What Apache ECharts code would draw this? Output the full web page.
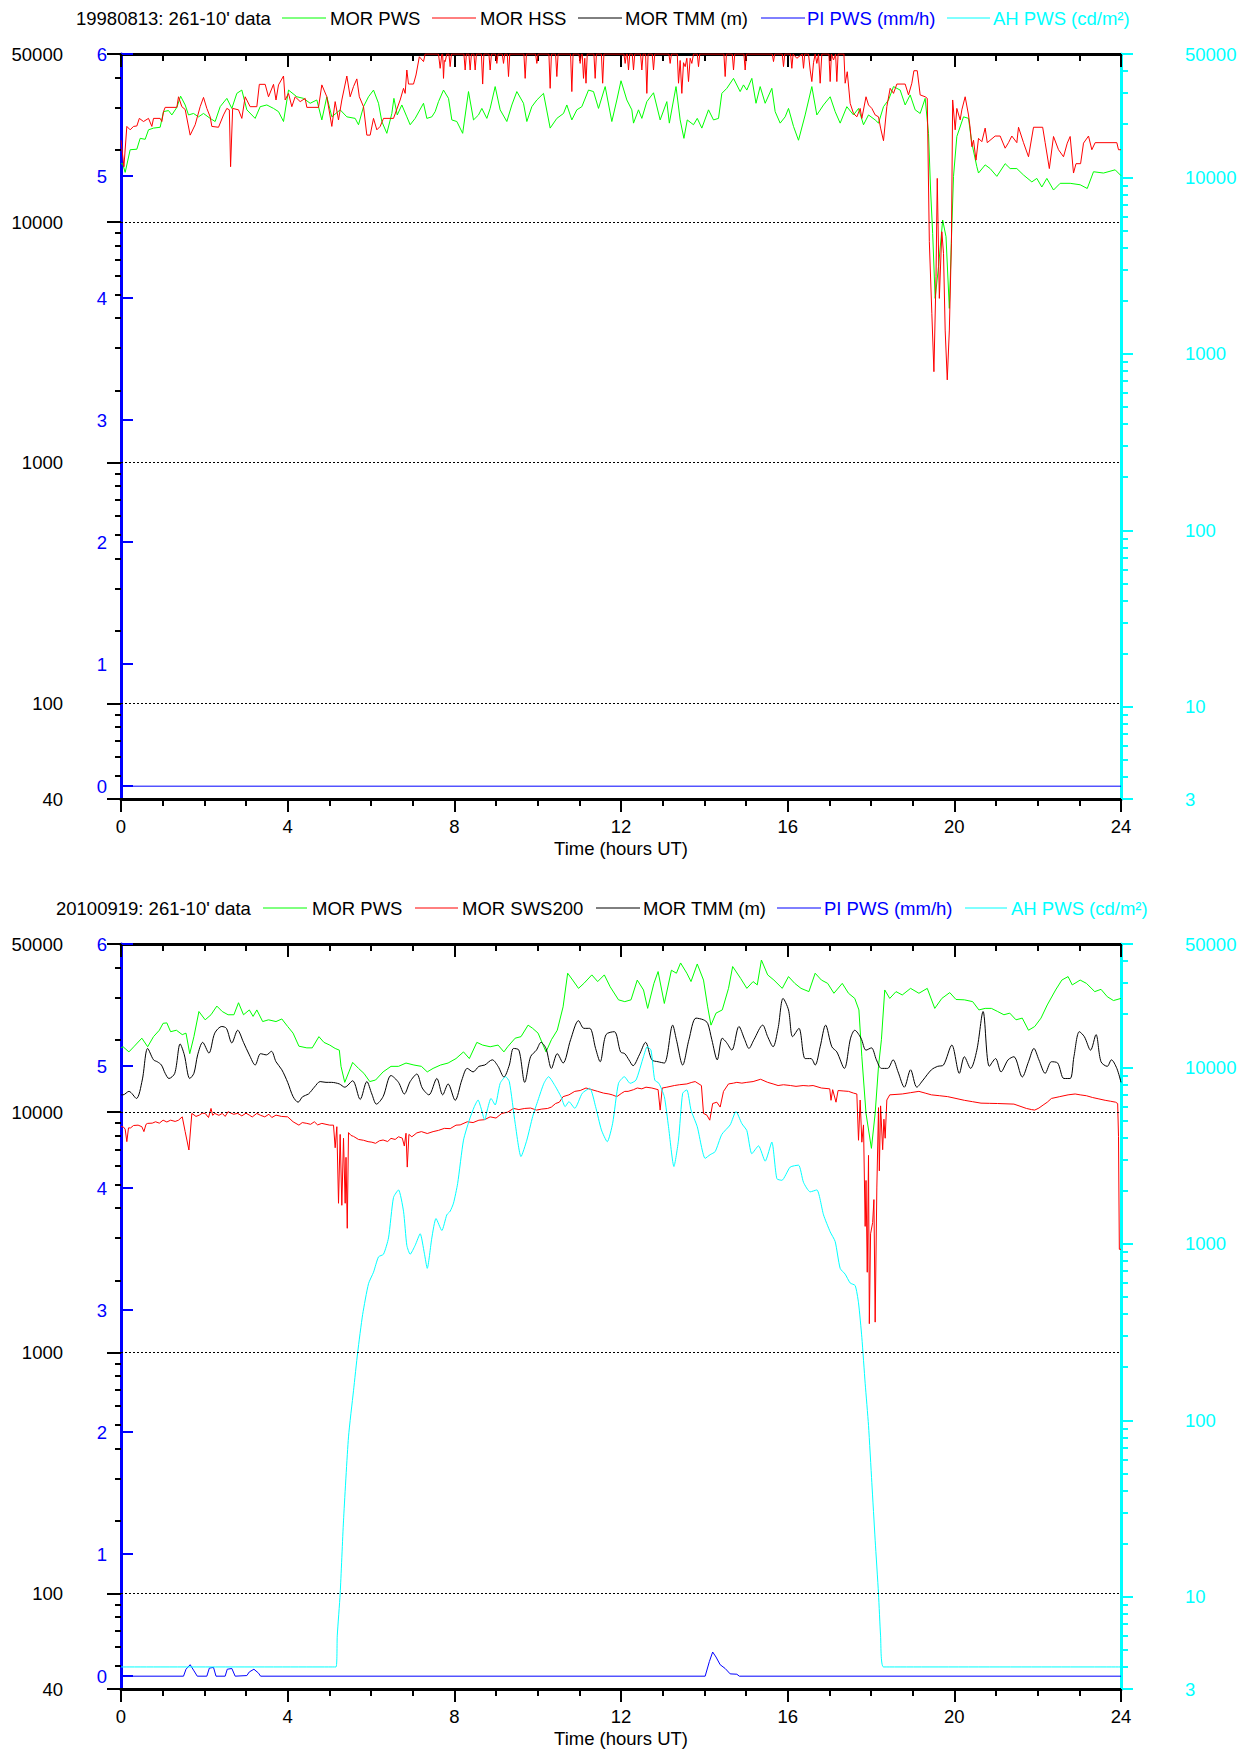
<!DOCTYPE html>
<html>
<head>
<meta charset="utf-8">
<title>MOR / PI / AH daily records</title>
<script src="https://cdn.jsdelivr.net/npm/echarts@6/dist/echarts.min.js"></script>
<style>
  html, body { margin: 0; padding: 0; background: #ffffff; }
  #chart { width: 1249px; height: 1751px; }
</style>
</head>
<body>
<div id="chart"></div>
<script>
// ---------------------------------------------------------------------------
// Tick values and labels
// ---------------------------------------------------------------------------
const hourLabels = [0, 4, 8, 12, 16, 20, 24];
const morMajorTicks = [40, 100, 1000, 10000, 50000];
const morMinorTicks = [50, 60, 70, 80, 90, 200, 300, 400, 500, 600, 700, 800, 900,
  2000, 3000, 4000, 5000, 6000, 7000, 8000, 9000, 20000, 30000, 40000];
const ahMajorTicks = [3, 10, 100, 1000, 10000, 50000];
const ahMinorTicks = [4, 5, 6, 7, 8, 9, 20, 30, 40, 50, 60, 70, 80, 90,
  200, 300, 400, 500, 600, 700, 800, 900, 2000, 3000, 4000, 5000, 6000, 7000, 8000, 9000,
  20000, 30000, 40000];
const piTicks = [0, 1, 2, 3, 4, 5, 6];
const morGridLines = [100, 1000, 10000];

// ---------------------------------------------------------------------------
// 1998-08-13 : [hour UT, value]
// ---------------------------------------------------------------------------
const topTitle = "19980813: 261-10' data";
const topNames = ['MOR PWS', 'MOR HSS', 'MOR TMM (m)', 'PI PWS (mm/h)', 'AH PWS (cd/m\u00B2)'];

const topPws = [
  [0.00,17500],[0.04,17500],[0.10,16100],[0.22,20000],[0.38,20100],[0.46,22300],[0.58,22100],[0.66,24200],
  [0.78,24600],[0.94,24800],[1.02,28800],[1.14,29100],[1.22,27900],[1.34,30000],[1.43,33400],[1.54,30700],
  [1.62,27900],[1.74,28300],[1.86,27400],[1.98,28300],[2.14,27000],[2.26,26200],[2.38,30200],[2.54,32700],
  [2.66,29700],[2.78,34300],[2.90,35400],[3.02,29300],[3.22,27000],[3.34,30200],[3.50,30700],[3.66,29700],
  [3.78,28800],[3.90,26200],[4.02,35400],[4.22,33200],[4.38,32700],[4.54,31200],[4.70,32200],[4.82,26600],
  [4.94,33200],[5.06,27400],[5.26,29300],[5.42,27400],[5.62,27000],[5.70,25400],[5.82,30200],[5.94,33200],
  [6.06,35400],[6.18,31200],[6.26,26200],[6.38,23400],[6.50,28300],[6.55,32700],[6.63,27900],[6.74,30700],
  [6.86,27400],[6.94,25400],[7.06,27000],[7.26,31200],[7.34,27000],[7.46,27400],[7.54,28800],[7.62,31700],
  [7.74,35400],[7.86,32700],[7.94,26600],[8.06,26200],[8.20,23400],[8.34,34900],[8.46,26600],[8.58,27900],
  [8.66,29700],[8.78,27000],[8.86,29700],[8.98,36600],[9.10,29300],[9.26,26200],[9.38,30700],[9.50,34900],
  [9.66,31200],[9.74,26200],[9.86,30200],[9.98,32200],[10.14,34300],[10.30,24600],[10.46,27000],[10.62,28300],
  [10.70,30700],[10.82,26600],[10.94,29300],[11.06,30200],[11.22,35400],[11.34,34900],[11.46,29700],[11.62,36600],
  [11.78,26200],[11.90,32200],[12.00,38700],[12.14,32200],[12.26,29300],[12.30,25800],[12.42,29300],[12.50,27000],
  [12.62,31700],[12.78,34500],[12.94,26600],[13.10,31700],[13.16,25800],[13.32,36600],[13.42,26600],[13.51,22300],
  [13.59,26600],[13.74,25400],[13.83,27000],[13.94,24600],[14.10,29300],[14.22,26600],[14.34,27000],[14.42,34300],
  [14.54,36000],[14.70,39600],[14.86,34900],[14.94,37200],[15.02,35400],[15.14,39600],[15.24,31200],[15.34,36600],
  [15.46,31200],[15.62,36000],[15.70,28800],[15.82,25800],[15.94,27400],[16.02,29700],[16.14,25000],[16.26,21900],
  [16.42,27900],[16.58,36600],[16.70,27900],[16.86,30700],[17.02,33200],[17.14,28800],[17.26,25800],[17.42,30200],
  [17.58,27900],[17.70,29700],[17.82,25400],[17.94,27900],[18.10,26600],[18.18,25800],[18.30,30200],[18.42,32200],
  [18.54,36600],[18.70,35400],[18.82,30700],[18.94,33800],[19.06,29300],[19.18,28300],[19.30,32700],[19.38,23400],
  [19.43,13600],[19.48,8980],[19.54,4820],[19.62,6530],[19.72,10200],[19.80,8700],[19.88,4380],[19.93,8430],
  [19.98,15500],[20.06,22700],[20.22,27400],[20.34,27000],[20.42,21300],[20.54,17000],[20.58,16000],[20.74,17300],
  [20.86,16700],[21.02,15500],[21.22,17500],[21.34,16700],[21.50,16700],[21.66,15700],[21.86,14700],[21.98,15200],
  [22.10,14000],[22.22,15200],[22.38,13600],[22.54,14500],[22.78,14500],[23.02,14300],[23.19,13800],[23.34,16200],
  [23.58,16000],[23.86,16500],[24.00,15600]
];

const topHss = [
  [0.00,21900],[0.07,17000],[0.14,25000],[0.22,24200],[0.30,25000],[0.38,25100],[0.44,27000],[0.54,26200],
  [0.66,27000],[0.74,25000],[0.78,27000],[0.94,27000],[0.98,26200],[1.02,28800],[1.06,30000],[1.34,30000],
  [1.38,33200],[1.46,30200],[1.54,29400],[1.66,23000],[1.78,25400],[1.90,30200],[1.98,33000],[2.06,29700],
  [2.14,27400],[2.18,25000],[2.34,24800],[2.46,27900],[2.54,29700],[2.60,29300],[2.63,17000],[2.68,29700],
  [2.82,29300],[2.90,27000],[2.98,33200],[3.10,30200],[3.26,30200],[3.32,37400],[3.46,37400],[3.54,33200],
  [3.66,37400],[3.72,32200],[3.78,37200],[3.90,40500],[3.94,32200],[4.02,34300],[4.10,30200],[4.18,33200],
  [4.30,31700],[4.42,32700],[4.46,30000],[4.74,30000],[4.82,37200],[4.94,33200],[5.06,25000],[5.14,31700],
  [5.22,26600],[5.30,32200],[5.42,40500],[5.50,33200],[5.58,36600],[5.66,39400],[5.72,33200],[5.82,30200],
  [5.90,23000],[5.98,23000],[6.06,27000],[6.14,24200],[6.22,25000],[6.30,27000],[6.54,27000],[6.70,32200],
  [6.78,36000],[6.82,34300],[6.86,42900],[6.90,37500],[7.02,37500],[7.08,40900],[7.16,48700],[7.26,46500],
  [7.30,50000],[7.62,50000],[7.66,43600],[7.70,50000],[7.72,50000],[7.74,39600],[7.76,47000],[7.78,46500],
  [7.82,50000],[7.87,50000],[7.90,44300],[7.93,50000],[8.23,50000],[8.26,42900],[8.29,50000],[8.35,50000],
  [8.38,42900],[8.41,50000],[8.47,50000],[8.50,42900],[8.53,50000],[8.65,50000],[8.68,37500],[8.71,50000],
  [8.83,50000],[8.86,42900],[8.89,50000],[8.99,50000],[9.02,45700],[9.05,50000],[9.15,50000],[9.18,45700],
  [9.21,50000],[9.27,50000],[9.30,40300],[9.33,50000],[9.67,50000],[9.70,39600],[9.73,50000],[9.95,50000],
  [9.98,45700],[10.01,50000],[10.27,50000],[10.30,36000],[10.33,50000],[10.43,50000],[10.46,40300],[10.49,50000],
  [10.79,50000],[10.82,34900],[10.85,50000],[10.99,50000],[11.02,45700],[11.05,50000],[11.07,50000],[11.10,39600],
  [11.13,48000],[11.16,37800],[11.19,50000],[11.35,50000],[11.38,39600],[11.41,50000],[11.53,50000],[11.56,37800],
  [11.59,50000],[12.07,50000],[12.10,45700],[12.13,50000],[12.15,50000],[12.18,42900],[12.21,50000],[12.27,50000],
  [12.30,42900],[12.33,50000],[12.47,50000],[12.50,42900],[12.53,50000],[12.59,50000],[12.62,34300],[12.65,50000],
  [12.75,50000],[12.78,42900],[12.81,50000],[13.15,50000],[13.18,45700],[13.21,50000],[13.35,50000],[13.38,37800],
  [13.42,47000],[13.46,34300],[13.50,46000],[13.54,44300],[13.58,48000],[13.62,38400],[13.66,48000],[13.70,45700],
  [13.74,50000],[13.83,50000],[13.86,44300],[13.89,50000],[14.47,50000],[14.50,40300],[14.53,50000],[14.67,50000],
  [14.70,42900],[14.73,50000],[14.95,50000],[14.98,42900],[15.01,50000],[15.63,50000],[15.66,46500],[15.69,50000],
  [15.87,50000],[15.90,44300],[15.93,50000],[16.07,50000],[16.10,43600],[16.13,50000],[16.22,48000],[16.35,50000],
  [16.38,43600],[16.41,50000],[16.50,50000],[16.54,42900],[16.58,38400],[16.62,46000],[16.66,50000],[16.70,45700],
  [16.74,50000],[16.78,37800],[16.82,50000],[16.99,50000],[17.02,38400],[17.05,50000],[17.10,47200],[17.15,50000],
  [17.18,38400],[17.21,50000],[17.35,50000],[17.38,37800],[17.43,42200],[17.50,31200],[17.58,28300],[17.66,27400],
  [17.74,29700],[17.78,27000],[17.88,33200],[17.94,30700],[18.02,29700],[18.10,27900],[18.18,27400],[18.23,24600],
  [18.30,21800],[18.38,30200],[18.46,36000],[18.54,34300],[18.62,37500],[18.82,37500],[18.90,33800],[18.98,37800],
  [19.03,42600],[19.11,42600],[19.18,33800],[19.30,33200],[19.35,32700],[19.40,8300],[19.46,4180],[19.51,2390],
  [19.56,5930],[19.59,15200],[19.64,4820],[19.70,9120],[19.74,7420],[19.78,3560],[19.83,2210],[19.88,3560],
  [19.93,8170],[19.96,32200],[20.02,24200],[20.06,29700],[20.14,26600],[20.18,29300],[20.26,33200],[20.34,27900],
  [20.38,24600],[20.42,20600],[20.46,21900],[20.52,18100],[20.58,22300],[20.66,21600],[20.74,24600],[20.79,21400],
  [20.98,22800],[21.10,22800],[21.22,20300],[21.30,21400],[21.38,22800],[21.50,21400],[21.54,24800],[21.66,21400],
  [21.78,18700],[21.90,24800],[22.12,24800],[22.18,21400],[22.28,16700],[22.38,22700],[22.50,20000],[22.62,18700],
  [22.71,21300],[22.78,22700],[22.86,16000],[22.92,17500],[23.03,17500],[23.10,21300],[23.22,22800],[23.30,20000],
  [23.38,21400],[23.90,21400],[23.94,20000],[24.00,20000]
];

const topTmm = [];
const topPi = [[0.00,0],[24.00,0]];
const topAh = [];

// ---------------------------------------------------------------------------
// 2010-09-19 : [hour UT, value]
// ---------------------------------------------------------------------------
const bottomTitle = "20100919: 261-10' data";
const bottomNames = ['MOR PWS', 'MOR SWS200', 'MOR TMM (m)', 'PI PWS (mm/h)', 'AH PWS (cd/m\u00B2)'];

const bottomPws = [
  [0.00,18500],[0.05,18700],[0.19,17800],[0.32,18800],[0.50,20300],[0.64,18700],[0.78,20600],[0.92,21900],
  [1.01,23400],[1.10,23500],[1.19,21600],[1.33,21900],[1.47,21000],[1.56,21300],[1.65,17500],[1.75,20600],
  [1.87,26200],[2.02,24200],[2.16,25400],[2.30,27600],[2.43,26200],[2.57,25400],[2.71,25400],[2.82,28500],
  [2.94,25400],[3.08,26600],[3.17,25000],[3.26,26600],[3.40,23800],[3.54,24200],[3.72,23800],[3.86,24400],
  [4.00,22700],[4.13,21300],[4.27,18800],[4.46,18500],[4.59,18500],[4.75,20600],[4.87,19500],[5.01,19000],
  [5.14,18400],[5.24,18100],[5.28,15500],[5.37,13300],[5.47,14700],[5.56,16100],[5.70,15200],[5.83,14500],
  [5.97,13400],[6.11,13600],[6.29,14700],[6.48,15500],[6.66,15500],[6.84,16000],[7.03,15700],[7.21,15500],
  [7.35,14700],[7.49,15200],[7.67,15700],[7.85,16000],[8.04,16700],[8.22,17800],[8.36,16700],[8.54,19500],
  [8.68,19000],[8.86,18700],[9.05,19000],[9.19,17800],[9.28,18700],[9.46,20300],[9.60,20600],[9.77,23000],
  [9.88,22300],[10.01,21300],[10.20,17800],[10.33,20000],[10.47,21900],[10.61,27400],[10.72,37800],[10.84,35400],
  [10.98,32700],[11.11,34300],[11.30,37200],[11.44,34900],[11.60,37200],[11.74,33200],[11.94,29300],[12.09,28800],
  [12.24,29300],[12.39,35400],[12.54,32200],[12.64,27000],[12.79,34300],[12.89,38400],[13.04,28300],[13.21,38900],
  [13.33,37800],[13.43,41700],[13.58,37800],[13.68,34900],[13.83,41300],[13.98,35400],[14.08,27400],[14.16,23000],
  [14.28,25800],[14.43,26600],[14.58,32700],[14.68,40300],[14.87,36000],[15.02,32700],[15.17,34900],[15.27,33800],
  [15.37,42900],[15.52,37200],[15.67,35400],[15.87,32700],[16.02,36600],[16.17,34300],[16.32,32700],[16.51,31700],
  [16.66,37800],[16.81,35400],[16.96,34300],[17.11,31200],[17.31,34300],[17.46,31200],[17.61,29700],[17.71,26600],
  [17.78,17000],[17.88,9890],[18.01,7070],[18.10,9890],[18.18,15500],[18.25,20000],[18.33,32200],[18.45,29700],
  [18.60,31700],[18.75,30700],[18.95,32700],[19.15,31200],[19.35,32700],[19.53,27000],[19.70,29700],[19.89,31400],
  [20.04,29400],[20.24,29300],[20.44,28800],[20.59,26600],[20.74,27000],[20.89,27000],[21.04,26200],[21.19,25400],
  [21.33,25800],[21.48,24200],[21.63,24600],[21.78,21900],[21.93,22700],[22.08,24600],[22.23,27900],[22.43,32200],
  [22.58,35400],[22.73,36600],[22.83,33800],[23.02,35400],[23.17,34300],[23.37,31700],[23.52,32400],[23.67,30200],
  [23.82,29100],[24.00,29700]
];

const bottomSws = [
  [0.00,8700],[0.05,8700],[0.10,8500],[0.14,7540],[0.18,8600],[0.23,8600],[0.30,8800],[0.41,8830],
  [0.50,8700],[0.55,8300],[0.60,8900],[0.64,8980],[0.75,9000],[0.83,9120],[0.92,9000],[1.01,9260],
  [1.10,9100],[1.19,9260],[1.30,9150],[1.38,9260],[1.47,9560],[1.54,8300],[1.63,6960],[1.70,9880],
  [1.80,9600],[1.88,9720],[1.95,9900],[2.02,9880],[2.10,9500],[2.16,10360],[2.20,9700],[2.25,9880],
  [2.35,9700],[2.43,9880],[2.50,9600],[2.57,10040],[2.70,9800],[2.80,9880],[2.90,9650],[3.00,9900],
  [3.08,9720],[3.15,9550],[3.26,9880],[3.35,9700],[3.45,9560],[3.55,9800],[3.62,9500],[3.72,9720],
  [3.85,9600],[4.00,9560],[4.13,9120],[4.27,8830],[4.35,9050],[4.46,8980],[4.55,8900],[4.64,9120],
  [4.72,8850],[4.82,8980],[4.92,8900],[5.01,8830],[5.10,8830],[5.14,7110],[5.18,8700],[5.22,4180],
  [5.26,8080],[5.30,4100],[5.34,7790],[5.38,4180],[5.40,6490],[5.43,3290],[5.46,8220],[5.52,8000],
  [5.58,7930],[5.70,7700],[5.82,7640],[5.93,7540],[6.02,7500],[6.11,7420],[6.20,7600],[6.29,7660],
  [6.40,7550],[6.48,7780],[6.58,7700],[6.66,7900],[6.75,7800],[6.80,7230],[6.84,8170],[6.87,5910],
  [6.91,8080],[6.98,7900],[7.10,8200],[7.21,8300],[7.35,8150],[7.49,8300],[7.62,8400],[7.76,8560],
  [7.90,8540],[8.04,8830],[8.14,8850],[8.31,9120],[8.45,9050],[8.59,9260],[8.72,9300],[8.86,9560],
  [9.00,9450],[9.14,9880],[9.28,10000],[9.42,10360],[9.55,10250],[9.69,10360],[9.83,10400],[9.97,10200],
  [10.10,10300],[10.24,10360],[10.33,10500],[10.43,10860],[10.52,11000],[10.61,11600],[10.75,11800],[10.89,12200],
  [11.02,12300],[11.16,12600],[11.30,12400],[11.44,12200],[11.58,12000],[11.71,11900],[11.79,11800],[11.90,11600],
  [12.02,12000],[12.09,12200],[12.17,12200],[12.30,12400],[12.39,12600],[12.50,12500],[12.60,12700],[12.74,12600],
  [12.89,12400],[12.94,10200],[12.99,12600],[13.10,12700],[13.28,12900],[13.40,13000],[13.58,13100],[13.70,13300],
  [13.78,13400],[13.93,12900],[13.98,9880],[14.06,9720],[14.13,9260],[14.20,10860],[14.30,11000],[14.38,10500],
  [14.46,12200],[14.58,13100],[14.70,13200],[14.78,13300],[14.90,13200],[15.02,13300],[15.17,13400],[15.35,13700],
  [15.52,13300],[15.65,13100],[15.77,12900],[15.90,13000],[16.07,12900],[16.20,12800],[16.37,12900],[16.50,12850],
  [16.61,12900],[16.81,12600],[17.01,12500],[17.04,11200],[17.08,12400],[17.16,11000],[17.21,12300],[17.33,12250],
  [17.46,12200],[17.58,12000],[17.66,11900],[17.70,7640],[17.74,11230],[17.78,7500],[17.82,8850],[17.86,3350],
  [17.88,5200],[17.91,2160],[17.94,6610],[17.96,1320],[17.99,3120],[18.04,3480],[18.07,4330],[18.10,1340],
  [18.14,4840],[18.18,10440],[18.20,5700],[18.23,10620],[18.28,6980],[18.31,9350],[18.34,7790],[18.38,11230],
  [18.45,11800],[18.60,11850],[18.75,11900],[18.95,12050],[19.15,12200],[19.30,12000],[19.45,11800],[19.65,11700],
  [19.84,11600],[20.04,11400],[20.24,11200],[20.44,11050],[20.64,10900],[20.84,10880],[21.04,10860],[21.24,10830],
  [21.43,10800],[21.60,10550],[21.73,10360],[21.85,10250],[21.93,10200],[22.03,10400],[22.13,10700],[22.23,11000],
  [22.33,11400],[22.53,11600],[22.73,11800],[22.90,11900],[23.02,11800],[23.17,11700],[23.32,11500],[23.47,11350],
  [23.62,11200],[23.75,11100],[23.87,11000],[23.92,10860],[23.94,7930],[23.96,2690],[24.00,2690]
];

const bottomTmm = [
  [0.00,11800],[0.05,11800],[0.19,12200],[0.37,11400],[0.51,13600],[0.64,18400],[0.78,16500],[0.87,16200],
  [0.97,15700],[1.06,14500],[1.15,13800],[1.29,14500],[1.42,19200],[1.52,17300],[1.65,13800],[1.75,14500],
  [1.84,17300],[1.96,19500],[2.11,17600],[2.25,21300],[2.42,22700],[2.53,22300],[2.66,19400],[2.80,21900],
  [2.94,19500],[3.08,17300],[3.22,15700],[3.35,17500],[3.49,17300],[3.61,17900],[3.72,16200],[3.86,15000],
  [4.00,13300],[4.13,11600],[4.25,11000],[4.36,11600],[4.50,11900],[4.64,12700],[4.78,13400],[4.92,13300],
  [5.05,13300],[5.24,13100],[5.37,12700],[5.56,13500],[5.74,11300],[5.90,13400],[6.02,11900],[6.13,10800],
  [6.29,11600],[6.48,14200],[6.66,13300],[6.80,11900],[6.94,13400],[7.10,14400],[7.23,12600],[7.39,11800],
  [7.58,13800],[7.72,11800],[7.85,13100],[8.02,11200],[8.18,13600],[8.31,15200],[8.45,14700],[8.59,15500],
  [8.73,15700],[8.91,16500],[9.05,15500],[9.19,14000],[9.32,15700],[9.42,18400],[9.55,18100],[9.69,13300],
  [9.83,17000],[9.97,18100],[10.08,19500],[10.20,18400],[10.33,15200],[10.47,17500],[10.61,16000],[10.79,20000],
  [10.98,24000],[11.11,22300],[11.25,22300],[11.39,18400],[11.50,16200],[11.64,21000],[11.84,21600],[11.99,17800],
  [12.09,17500],[12.19,16500],[12.29,15600],[12.44,17300],[12.59,19500],[12.74,16500],[12.89,16200],[13.04,16000],
  [13.24,23000],[13.33,20000],[13.48,15700],[13.63,20000],[13.80,24600],[13.98,24200],[14.08,23400],[14.18,20000],
  [14.31,16500],[14.43,20300],[14.53,19500],[14.66,18100],[14.83,22700],[14.97,20000],[15.07,18400],[15.19,20000],
  [15.40,23000],[15.52,20600],[15.65,18700],[15.77,22300],[15.89,29700],[16.02,26600],[16.12,20600],[16.27,22300],
  [16.42,16700],[16.56,16700],[16.66,15700],[16.78,18700],[16.91,23000],[17.06,18700],[17.18,17800],[17.36,15200],
  [17.51,20300],[17.61,21900],[17.76,20300],[17.88,18100],[18.01,18500],[18.13,16500],[18.25,15200],[18.40,15200],
  [18.53,16500],[18.65,14700],[18.80,12700],[18.95,15000],[19.10,12700],[19.25,13600],[19.45,15000],[19.60,15500],
  [19.74,15700],[19.94,19000],[20.12,14500],[20.24,17000],[20.39,15200],[20.54,18100],[20.69,26200],[20.84,15500],
  [20.99,16700],[21.12,14700],[21.29,16500],[21.43,17000],[21.63,14000],[21.78,16200],[21.91,18400],[22.03,16500],
  [22.18,14500],[22.33,16200],[22.48,16000],[22.63,13800],[22.78,13800],[22.87,17000],[23.00,21600],[23.12,20600],
  [23.27,18100],[23.40,21000],[23.52,16200],[23.67,15500],[23.77,16500],[23.90,15200],[24.00,13300]
];

const bottomPi = [
  [0.00,0],[1.50,0],[1.56,0.057],[1.66,0.094],[1.74,0.05],[1.83,0],[2.06,0],[2.12,0.066],
  [2.22,0.072],[2.28,0],[2.50,0],[2.55,0.057],[2.66,0.063],[2.74,0],[3.02,0.005],[3.08,0.035],
  [3.19,0.057],[3.30,0.025],[3.35,0],[14.02,0],[14.12,0.119],[14.20,0.198],[14.28,0.157],[14.38,0.094],
  [14.50,0.063],[14.62,0.019],[14.78,0.016],[14.84,0],[24.00,0]
];

const bottomAh = [
  [0.00,4],[5.16,4],[5.19,6.0],[5.26,10.4],[5.34,26.9],[5.46,80.5],[5.58,147],[5.68,242],
  [5.80,398],[5.94,594],[6.06,690],[6.18,843],[6.30,873],[6.42,1080],[6.54,1830],[6.66,2020],
  [6.78,1530],[6.86,980],[6.94,873],[7.06,980],[7.18,1140],[7.28,885],[7.35,726],[7.46,1080],
  [7.56,1390],[7.70,1190],[7.82,1460],[7.90,1530],[7.98,1700],[8.08,2200],[8.22,3870],[8.36,5030],
  [8.48,5990],[8.57,6530],[8.63,5990],[8.73,5030],[8.79,5730],[8.88,6670],[8.98,6120],[9.10,8120],
  [9.23,8850],[9.32,8290],[9.46,4820],[9.60,3120],[9.74,3870],[9.88,5260],[10.01,6530],[10.15,8120],
  [10.26,8850],[10.43,7760],[10.56,6820],[10.66,5990],[10.75,6390],[10.89,5860],[11.07,7130],[11.25,7610],
  [11.39,5990],[11.53,4420],[11.67,3790],[11.80,4820],[11.94,8120],[12.08,8850],[12.22,8120],[12.36,8470],
  [12.54,11500],[12.63,13100],[12.72,12500],[12.81,8470],[12.91,8120],[13.04,6820],[13.14,4610],[13.27,2740],
  [13.38,3870],[13.48,7130],[13.58,7450],[13.68,5730],[13.83,4610],[14.02,3050],[14.14,3200],[14.26,3330],
  [14.42,4170],[14.62,4720],[14.76,5620],[14.90,4800],[15.02,4380],[15.14,3240],[15.30,3590],[15.46,2940],
  [15.62,3770],[15.74,2340],[15.86,2290],[16.06,2720],[16.26,2790],[16.38,2230],[16.54,1970],[16.70,2020],
  [16.86,1460],[17.02,1170],[17.14,1030],[17.26,726],[17.38,673],[17.50,600],[17.62,580],[17.70,463],
  [17.78,295],[17.86,162],[17.94,93.6],[18.02,44.3],[18.10,20.9],[18.18,10.4],[18.23,6.0],[18.30,4],
  [24.00,4]
];

// ---------------------------------------------------------------------------
// Layout and styling
// ---------------------------------------------------------------------------
const FONT_FAMILY = '"Liberation Sans", Arial, Helvetica, sans-serif';
const FONT_SIZE = 18.5;
const FONT_CSS = FONT_SIZE + 'px ' + FONT_FAMILY;
const COLOR = { pws: '#00ff00', red: '#ff0000', tmm: '#000000', pi: '#0000ff', ah: '#00ffff', axis: '#000000' };
const PLOT_LEFT = 121, PLOT_WIDTH = 1000, PLOT_HEIGHT = 745;

const panels = [
  {
    top: 54, headerY: 18, title: topTitle, names: topNames,
    pws: topPws, red: topHss, tmm: topTmm, pi: topPi, ah: topAh,
    headerLayout: { titleX: 76, items: [[282, 326, 330], [432, 476, 480], [578, 622, 625], [761, 805, 807], [947, 990, 993]] }
  },
  {
    top: 944, headerY: 908, title: bottomTitle, names: bottomNames,
    pws: bottomPws, red: bottomSws, tmm: bottomTmm, pi: bottomPi, ah: bottomAh,
    headerLayout: { titleX: 56, items: [[263, 307, 312], [415, 458, 462], [596, 640, 643], [777, 821, 824], [965, 1007, 1011]] }
  }
];

const intLabel = v => String(Math.round(v));

const grids = [], xAxes = [], yAxes = [], series = [], graphics = [];

panels.forEach((p, gi) => {
  grids.push({ left: PLOT_LEFT, top: p.top, width: PLOT_WIDTH, height: PLOT_HEIGHT, containLabel: false });

  // time axes, bottom (labelled) and top (ticks only)
  const xBottom = xAxes.length;
  const xCommon = {
    gridIndex: gi, type: 'value', min: 0, max: 24, interval: 4,
    axisLine: { onZero: false, lineStyle: { color: COLOR.axis, width: 3 } },
    minorTick: { show: true, splitNumber: 4, length: 7, lineStyle: { color: COLOR.axis, width: 2 } },
    splitLine: { show: false }, minorSplitLine: { show: false }
  };
  xAxes.push(Object.assign({}, xCommon, {
    position: 'bottom',
    axisTick: { inside: false, length: 13, lineStyle: { color: COLOR.axis, width: 2 } },
    axisLabel: { customValues: hourLabels, margin: 18, fontSize: FONT_SIZE, fontFamily: FONT_FAMILY, color: '#000' },
    name: 'Time (hours UT)', nameLocation: 'middle', nameGap: 40,
    nameTextStyle: { fontSize: FONT_SIZE, fontFamily: FONT_FAMILY, color: '#000' }
  }));
  xAxes.push(Object.assign({}, xCommon, {
    position: 'top',
    axisTick: { inside: true, length: 13, lineStyle: { color: COLOR.axis, width: 2 } },
    minorTick: { show: true, splitNumber: 4, length: 7, lineStyle: { color: COLOR.axis, width: 2 } },
    axisLabel: { show: false }
  }));

  // MOR axis (log, left, black labels and ticks)
  const yMor = yAxes.length;
  yAxes.push({
    gridIndex: gi, type: 'log', logBase: 10, min: 40, max: 50000, position: 'left',
    axisLine: { show: false, onZero: false },
    axisTick: { show: true, customValues: morMajorTicks, inside: false, length: 14, lineStyle: { color: COLOR.axis, width: 2 } },
    axisLabel: { customValues: morMajorTicks, formatter: intLabel, margin: 58, fontSize: FONT_SIZE, fontFamily: FONT_FAMILY, color: '#000' },
    splitLine: { show: false }
  });
  yAxes.push({
    gridIndex: gi, type: 'log', logBase: 10, min: 40, max: 50000, position: 'left',
    axisLine: { show: false, onZero: false },
    axisTick: { show: true, customValues: morMinorTicks, inside: false, length: 6, lineStyle: { color: COLOR.axis, width: 2 } },
    axisLabel: { show: false }, splitLine: { show: false }
  });
  // precipitation intensity axis (linear, left, blue)
  const yPi = yAxes.length;
  yAxes.push({
    gridIndex: gi, type: 'value', min: -0.105, max: 6, position: 'left',
    axisLine: { show: true, onZero: false, lineStyle: { color: COLOR.pi, width: 3 } },
    axisTick: { show: true, customValues: piTicks, inside: true, length: 12, lineStyle: { color: COLOR.pi, width: 2 } },
    axisLabel: { customValues: piTicks, margin: 14, fontSize: FONT_SIZE, fontFamily: FONT_FAMILY, color: COLOR.pi },
    splitLine: { show: false }
  });
  // background luminance axis (log, right, cyan)
  const yAh = yAxes.length;
  yAxes.push({
    gridIndex: gi, type: 'log', logBase: 10, min: 3, max: 50000, position: 'right',
    axisLine: { show: true, onZero: false, lineStyle: { color: COLOR.ah, width: 3 } },
    axisTick: { show: true, customValues: ahMajorTicks, inside: false, length: 12, lineStyle: { color: COLOR.ah, width: 2 } },
    axisLabel: { customValues: ahMajorTicks, formatter: intLabel, margin: 64, fontSize: FONT_SIZE, fontFamily: FONT_FAMILY, color: COLOR.ah },
    splitLine: { show: false }
  });
  yAxes.push({
    gridIndex: gi, type: 'log', logBase: 10, min: 3, max: 50000, position: 'right',
    axisLine: { show: false, onZero: false },
    axisTick: { show: true, customValues: ahMinorTicks, inside: false, length: 7, lineStyle: { color: COLOR.ah, width: 2 } },
    axisLabel: { show: false }, splitLine: { show: false }
  });

  const lineSeries = (name, data, yIdx, color, extra) => Object.assign({
    type: 'line', name, data, xAxisIndex: xBottom, yAxisIndex: yIdx,
    symbol: 'none', showSymbol: false, animation: false, clip: true,
    lineStyle: { color, width: 1 }, itemStyle: { color }, emphasis: { disabled: true }
  }, extra || {});

  series.push(lineSeries(p.names[0], p.pws, yMor, COLOR.pws, {
    markLine: {
      silent: true, symbol: ['none', 'none'], animation: false, label: { show: false },
      lineStyle: { color: '#000', width: 1, type: [2, 2] },
      data: morGridLines.map(v => ({ yAxis: v }))
    }
  }));
  series.push(lineSeries(p.names[1], p.red, yMor, COLOR.red));
  series.push(lineSeries(p.names[2], p.tmm, yMor, COLOR.tmm, { smooth: 0.3 }));
  series.push(lineSeries(p.names[3], p.pi, yPi, COLOR.pi));
  series.push(lineSeries(p.names[4], p.ah, yAh, COLOR.ah, { smooth: 0.2 }));

  // header line: date tag followed by the series key
  const L = p.headerLayout, y = p.headerY;
  const textColors = ['#000', '#000', '#000', COLOR.pi, COLOR.ah];
  const lineColors = [COLOR.pws, COLOR.red, COLOR.tmm, COLOR.pi, COLOR.ah];
  graphics.push({
    type: 'text', x: L.titleX, y, silent: true,
    style: { text: p.title, fill: '#000', font: FONT_CSS, align: 'left', verticalAlign: 'middle', textAlign: 'left', textVerticalAlign: 'middle' }
  });
  L.items.forEach((it, k) => {
    graphics.push({
      type: 'line', silent: true,
      shape: { x1: it[0], y1: y, x2: it[1], y2: y },
      style: { stroke: lineColors[k], lineWidth: 1 }
    });
    graphics.push({
      type: 'text', x: it[2], y, silent: true,
      style: { text: p.names[k], fill: textColors[k], font: FONT_CSS, align: 'left', verticalAlign: 'middle', textAlign: 'left', textVerticalAlign: 'middle' }
    });
  });
});

const chart = echarts.init(document.getElementById('chart'), null, { renderer: 'svg', width: 1249, height: 1751 });
chart.setOption({
  backgroundColor: '#ffffff',
  animation: false,
  grid: grids,
  xAxis: xAxes,
  yAxis: yAxes,
  series,
  graphic: graphics
});
</script>
</body>
</html>
